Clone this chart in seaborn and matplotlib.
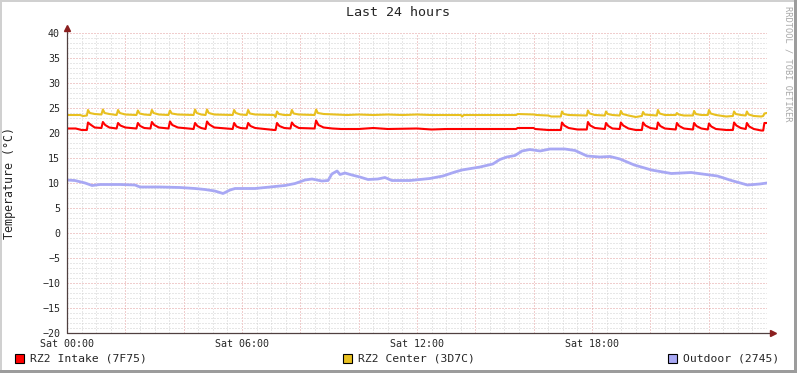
import numpy as np
import pandas as pd
import matplotlib
matplotlib.use('Agg')
import matplotlib.pyplot as plt
from matplotlib.patches import Rectangle
import seaborn as sns

#%% data (hours since Sat 00:00, degrees C)

tick_hours = [0, 6, 12, 18]
tick_labels = ["Sat 00:00", "Sat 06:00", "Sat 12:00", "Sat 18:00"]

intake_h = [0.00, 0.30, 0.50, 0.68,
            0.72, 0.80, 0.95, 1.18,
            1.23, 1.31, 1.45, 1.70,
            1.75, 1.83, 2.00, 2.38,
            2.43, 2.51, 2.65, 2.86,
            2.91, 2.99, 3.15, 3.48,
            3.53, 3.61, 3.80, 4.34,
            4.39, 4.47, 4.60, 4.75,
            4.80, 4.88, 5.05, 5.68,
            5.73, 5.81, 5.95, 6.16,
            6.21, 6.29, 6.45, 7.10, 7.15,
            7.20, 7.28, 7.45, 7.66,
            7.71, 7.79, 7.95, 8.49,
            8.54, 8.62, 8.80, 9.10, 9.40,
            10.0, 10.5, 11.0, 12.0, 12.5, 13.0, 14.0, 15.4, 15.45, 16.0, 16.05, 16.5, 16.93,
            16.97, 17.05, 17.20, 17.50, 17.82,
            17.86, 17.94, 18.10, 18.44,
            18.48, 18.56, 18.70, 18.95,
            18.99, 19.07, 19.25, 19.50, 19.71,
            19.75, 19.83, 20.00, 20.22,
            20.26, 20.34, 20.50, 20.87,
            20.91, 20.99, 21.15, 21.46,
            21.50, 21.58, 21.75, 21.97,
            22.01, 22.09, 22.25, 22.60, 22.83,
            22.87, 22.95, 23.10, 23.27,
            23.31, 23.39, 23.55, 23.80, 23.87,
            23.91, 24.00]
intake_v = [20.9, 20.9, 20.6, 20.6,
            22.1, 21.7, 21.1, 21.0,
            22.2, 21.6, 21.1, 20.9,
            22.0, 21.5, 21.1, 20.9,
            22.0, 21.4, 21.0, 20.9,
            22.2, 21.6, 21.1, 20.9,
            22.3, 21.6, 21.1, 20.8,
            22.0, 21.4, 21.0, 20.8,
            22.3, 21.7, 21.1, 20.8,
            22.0, 21.3, 21.0, 20.9,
            22.0, 21.4, 21.0, 20.6, 20.6,
            22.0, 21.4, 21.0, 20.9,
            22.1, 21.5, 21.0, 20.9,
            22.5, 21.6, 21.1, 20.9, 20.8,
            20.8, 21.0, 20.8, 20.9, 20.7, 20.8, 20.8, 20.8, 21.0, 21.0, 20.8, 20.6, 20.6,
            22.1, 21.5, 21.0, 20.7, 20.7,
            22.2, 21.5, 21.0, 20.8,
            22.0, 21.4, 20.9, 20.8,
            22.1, 21.5, 20.9, 20.6, 20.6,
            22.1, 21.5, 21.0, 20.8,
            22.1, 21.4, 20.9, 20.7,
            22.0, 21.4, 20.9, 20.7,
            22.0, 21.4, 20.9, 20.7,
            21.9, 21.3, 20.8, 20.6, 20.6,
            22.1, 21.5, 21.0, 20.8,
            22.0, 21.3, 20.8, 20.5, 20.5,
            22.0, 22.0]

center_h = [0.00, 0.45, 0.55, 0.68,
            0.72, 0.78, 0.95, 1.18,
            1.23, 1.29, 1.45, 1.70,
            1.75, 1.81, 2.00, 2.38,
            2.43, 2.49, 2.65, 2.86,
            2.91, 2.97, 3.15, 3.48,
            3.53, 3.59, 3.80, 4.34,
            4.39, 4.45, 4.60, 4.75,
            4.80, 4.86, 5.05, 5.68,
            5.73, 5.79, 5.95, 6.16,
            6.21, 6.27, 6.45, 7.10, 7.15,
            7.20, 7.26, 7.45, 7.66,
            7.71, 7.77, 7.95, 8.49,
            8.54, 8.60, 8.80, 9.20, 9.60,
            10.0, 10.5, 11.0, 11.5, 12.0, 12.5, 13.5, 13.55, 13.6, 15.4, 15.45, 16.0, 16.1, 16.5, 16.6, 16.93,
            16.97, 17.03, 17.20, 17.82,
            17.86, 17.92, 18.10, 18.44,
            18.48, 18.54, 18.70, 18.95,
            18.99, 19.05, 19.25, 19.50, 19.71,
            19.75, 19.81, 20.00, 20.22,
            20.26, 20.32, 20.50, 20.87,
            20.91, 20.97, 21.15, 21.46,
            21.50, 21.56, 21.75, 21.97,
            22.01, 22.07, 22.25, 22.60, 22.83,
            22.87, 22.93, 23.10, 23.27,
            23.31, 23.37, 23.55, 23.80, 23.87,
            23.91, 24.00]
center_v = [23.6, 23.6, 23.4, 23.5,
            24.6, 24.0, 23.8, 23.7,
            24.7, 24.0, 23.8, 23.6,
            24.6, 24.0, 23.7, 23.6,
            24.5, 23.9, 23.7, 23.6,
            24.6, 24.0, 23.7, 23.6,
            24.5, 23.9, 23.7, 23.6,
            24.7, 24.0, 23.7, 23.6,
            24.7, 24.0, 23.7, 23.6,
            24.6, 24.0, 23.7, 23.6,
            24.6, 23.9, 23.7, 23.6, 23.2,
            24.3, 23.8, 23.6, 23.6,
            24.6, 23.9, 23.7, 23.6,
            24.7, 24.0, 23.8, 23.7, 23.6,
            23.7, 23.6, 23.7, 23.6, 23.7, 23.6, 23.6, 23.3, 23.6, 23.6, 23.8, 23.7, 23.6, 23.5, 23.3, 23.3,
            24.3, 23.8, 23.6, 23.5,
            24.5, 23.9, 23.6, 23.5,
            24.3, 23.8, 23.6, 23.5,
            24.4, 23.8, 23.5, 23.2, 23.4,
            24.2, 23.7, 23.6, 23.5,
            24.6, 23.9, 23.6, 23.6,
            24.0, 23.7, 23.5, 23.5,
            24.4, 23.8, 23.6, 23.6,
            24.6, 23.9, 23.6, 23.3, 23.4,
            24.3, 23.8, 23.6, 23.5,
            24.3, 23.7, 23.4, 23.3, 23.4,
            23.9, 24.0]

outdoor_h = [0.00, 0.27, 0.62, 0.86, 1.13, 1.82, 2.33, 2.50, 3.19, 3.87,
             4.39, 4.73, 5.07, 5.35, 5.59, 5.76, 6.45, 6.96, 7.47, 7.82,
             8.16, 8.40, 8.74, 8.95, 9.08, 9.26, 9.36, 9.53, 9.77, 10.04,
             10.32, 10.66, 10.90, 11.14, 11.76, 12.44, 12.89, 13.30, 13.54, 14.16,
             14.60, 14.84, 15.08, 15.36, 15.60, 15.87, 16.22, 16.56, 17.07, 17.42,
             17.83, 18.27, 18.62, 18.96, 19.45, 20.04, 20.72, 21.40, 22.30, 22.78,
             23.33, 23.75, 24.00]
outdoor_v = [10.6, 10.5, 10.0, 9.5, 9.7, 9.7, 9.6, 9.2, 9.2, 9.1,
             8.9, 8.7, 8.4, 7.9, 8.6, 8.9, 8.9, 9.2, 9.5, 9.9,
             10.6, 10.8, 10.4, 10.5, 11.8, 12.4, 11.7, 12.0, 11.6, 11.2,
             10.7, 10.8, 11.1, 10.5, 10.5, 10.9, 11.4, 12.2, 12.6, 13.2,
             13.8, 14.7, 15.2, 15.5, 16.4, 16.7, 16.4, 16.8, 16.8, 16.5,
             15.4, 15.2, 15.3, 14.8, 13.6, 12.6, 11.9, 12.1, 11.4, 10.5,
             9.6, 9.8, 10.0]

#%% style

sns.set_style("white")
plt.rcParams['font.family'] = ['DejaVu Sans Mono', 'DejaVu Sans']

col_intake = '#ff0000'
col_center = '#e8c020'
col_outdoor = '#a8a8f4'
col_axis = '#504040'
col_arrow = '#8b1f1f'
col_minor = '#d0d0d0'
col_major = '#e29c9c'

W, H = 797, 373
fig = plt.figure(figsize=(W/100, H/100), dpi=100)
fig.patch.set_facecolor('white')
ax = fig.add_axes([67/W, 1-333/H, 700/W, 300/H])
ax.set_facecolor('white')

# grid, dotted like rrdtool
dot = (0, (1.0, 2.0))
for h in np.arange(0, 24.01, 0.5):
    ax.axvline(h, color=col_minor, lw=0.72, ls=dot, zorder=0)
for v in np.arange(-20, 40.01, 1):
    ax.axhline(v, color=col_minor, lw=0.72, ls=dot, zorder=0)
for h in np.arange(0, 24.01, 2):
    ax.axvline(h, color='white', lw=0.9, zorder=0.4)
    ax.axvline(h, color=col_major, lw=0.72, ls=dot, zorder=0.5)
for v in np.arange(-20, 40.01, 5):
    ax.axhline(v, color='white', lw=0.9, zorder=0.4)
    ax.axhline(v, color=col_major, lw=0.72, ls=dot, zorder=0.5)

df_in = pd.DataFrame({'h': intake_h, 'v': intake_v})
df_ce = pd.DataFrame({'h': center_h, 'v': center_v})
df_out = pd.DataFrame({'h': outdoor_h, 'v': outdoor_v})

sns.lineplot(data=df_in, x='h', y='v', ax=ax, color=col_intake, lw=1.5,
             estimator=None, sort=False, legend=False, zorder=3)
sns.lineplot(data=df_ce, x='h', y='v', ax=ax, color=col_center, lw=1.5,
             estimator=None, sort=False, legend=False, zorder=3)
sns.lineplot(data=df_out, x='h', y='v', ax=ax, color=col_outdoor, lw=2.0,
             estimator=None, sort=False, legend=False, zorder=3)

ax.set_xlim(0, 24)
ax.set_ylim(-20, 40)
for s in ax.spines.values():
    s.set_visible(False)

ax.set_xticks(tick_hours)
ax.set_xticklabels(tick_labels)
ax.set_xticks(np.arange(0, 24.01, 0.5), minor=True)
ax.set_yticks(np.arange(-20, 41, 5))
ax.set_yticks(np.arange(-20, 41, 1), minor=True)
ax.tick_params(axis='both', which='major', length=4, direction='inout',
               color=col_axis, labelsize=7.2, pad=2)
ax.tick_params(axis='both', which='minor', length=2, direction='inout', color=col_axis)
ax.tick_params(axis='y', pad=3)
ax.set_xlabel('')
ax.set_ylabel('')

# axis lines with arrows
ax.plot([0, 0], [-20, 41.0], color=col_axis, lw=0.9, clip_on=False, zorder=4)
ax.plot([0, 24.15], [-20, -20], color=col_axis, lw=0.9, clip_on=False, zorder=4)
ax.plot([0], [41.1], marker='^', ms=4, color=col_arrow, clip_on=False, zorder=5)
ax.plot([24.2], [-20], marker='>', ms=4, color=col_arrow, clip_on=False, zorder=5)

# texts
fig.text(0.5, 1-13/H, "Last 24 hours", ha='center', va='center', fontsize=9.6)
fig.text(10/W, 1-183/H, "Temperature (°C)", rotation=90, ha='center', va='center', fontsize=8.4)
fig.text(788/W, 1-6/H, "RRDTOOL / TOBI OETIKER", rotation=270, ha='center', va='top',
         fontsize=6.2, color='#a8a8a8')

# legend
legend_items = [("RZ2 Intake (7F75)", col_intake, 15),
                ("RZ2 Center (3D7C)", col_center, 343),
                ("Outdoor (2745)", col_outdoor, 668)]
for label, c, x0 in legend_items:
    fig.add_artist(Rectangle((x0/W, 1-363/H), 9/W, 9/H, transform=fig.transFigure,
                             facecolor=c, edgecolor='black', lw=0.8))
    fig.text((x0+15)/W, 1-358.5/H, label, ha='left', va='center', fontsize=8.2)

# frame shading
fig.add_artist(Rectangle((0, 1-2/H), 1, 2/H, transform=fig.transFigure, color='#d0d0d0', lw=0))
fig.add_artist(Rectangle((0, 0), 2/W, 1, transform=fig.transFigure, color='#d0d0d0', lw=0))
fig.add_artist(Rectangle((1-3/W, 0), 3/W, 1, transform=fig.transFigure, color='#9c9c9c', lw=0))
fig.add_artist(Rectangle((0, 0), 1, 3/H, transform=fig.transFigure, color='#9c9c9c', lw=0))

fig.savefig('out.png', dpi=100)
